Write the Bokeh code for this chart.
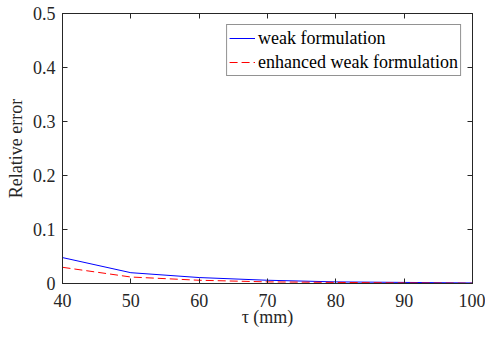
from bokeh.plotting import figure
from bokeh.models import FixedTicker, LinearAxis, Range1d, Legend, LegendItem
from bokeh.embed import file_html
from bokeh.resources import INLINE

tau = [40, 50, 60, 70, 80, 90, 100]
weak = [0.048, 0.020, 0.011, 0.006, 0.003, 0.002, 0.001]
enhanced = [0.030, 0.012, 0.006, 0.003, 0.002, 0.001, 0.0005]
x_ticks = [40, 50, 60, 70, 80, 90, 100]
y_ticks = [0, 0.1, 0.2, 0.3, 0.4, 0.5]
y_tick_labels = ["0", "0.1", "0.2", "0.3", "0.4", "0.5"]

FONT = "'Liberation Serif', 'Times New Roman', Times, serif"
AX = "#262626"

p = figure(width=485, height=338, output_backend="svg", toolbar_location=None,
           x_range=Range1d(40, 100), y_range=Range1d(0, 0.5),
           min_border_left=62, min_border_right=13, min_border_top=13, min_border_bottom=55)

r1 = p.line(tau, weak, line_color="#0000ff", line_width=1)
r2 = p.line(tau, enhanced, line_color="#ff0000", line_width=1, line_dash="8 4")

p.xgrid.visible = False
p.ygrid.visible = False
p.outline_line_color = AX
p.outline_line_width = 1

for ax in (p.xaxis[0], p.yaxis[0]):
    ax.major_label_text_font = FONT
    ax.major_label_text_font_size = "18px"
    ax.major_label_text_color = AX
    ax.axis_label_text_font = FONT
    ax.axis_label_text_font_size = "18px"
    ax.axis_label_text_font_style = "normal"
    ax.axis_label_text_color = AX
    ax.major_tick_in = 5
    ax.major_tick_out = 0
    ax.minor_tick_in = 0
    ax.minor_tick_out = 0
    ax.axis_line_color = AX
    ax.major_tick_line_color = AX

p.xaxis[0].ticker = FixedTicker(ticks=x_ticks)
p.yaxis[0].ticker = FixedTicker(ticks=y_ticks)
p.yaxis[0].major_label_overrides = dict(zip(y_ticks, y_tick_labels))
p.xaxis[0].axis_label = "τ (mm)"
p.yaxis[0].axis_label = "Relative error"
p.xaxis[0].major_label_standoff = 10
p.yaxis[0].major_label_standoff = 7
p.xaxis[0].axis_label_standoff = -3
p.yaxis[0].axis_label_standoff = 4

top = LinearAxis(ticker=FixedTicker(ticks=x_ticks),
                 major_label_overrides={t: "" for t in x_ticks},
                 major_label_standoff=0,
                 major_tick_in=5, major_tick_out=0, minor_tick_in=0, minor_tick_out=0,
                 axis_line_color=AX, major_tick_line_color=AX)
right = LinearAxis(ticker=FixedTicker(ticks=y_ticks),
                   major_label_overrides={t: "" for t in y_ticks},
                   major_label_standoff=0,
                   major_tick_in=5, major_tick_out=0, minor_tick_in=0, minor_tick_out=0,
                   axis_line_color=AX, major_tick_line_color=AX)
p.add_layout(top, "above")
p.add_layout(right, "right")

legend = Legend(items=[LegendItem(label="weak formulation", renderers=[r1]),
                       LegendItem(label="enhanced weak formulation", renderers=[r2])],
                location="top_right")
legend.label_text_font = FONT
legend.label_text_font_size = "18px"
legend.label_text_color = "#000000"
legend.border_line_color = AX
legend.border_line_width = 1
legend.glyph_width = 26
legend.glyph_height = 22
legend.label_height = 22
legend.label_standoff = 3
legend.spacing = 2
legend.padding = 2
legend.margin = 11
p.add_layout(legend)

open("out.html", "w").write(file_html(p, INLINE))
